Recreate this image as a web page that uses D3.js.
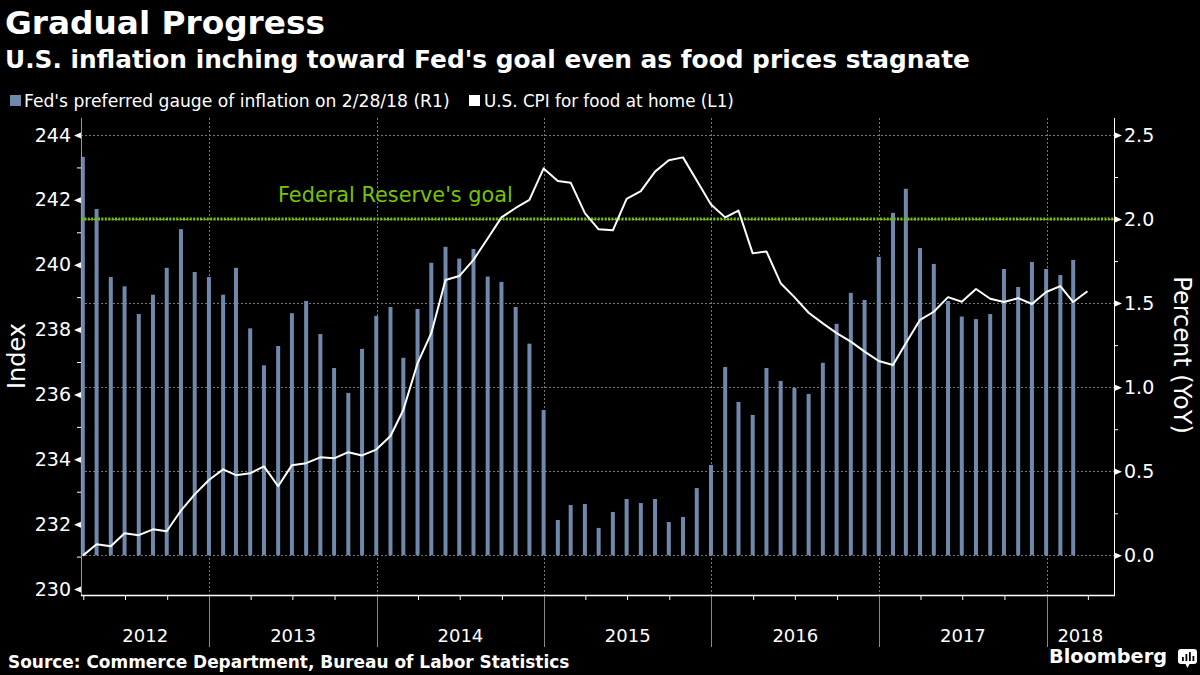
<!DOCTYPE html>
<html><head><meta charset="utf-8">
<script src="https://cdn.jsdelivr.net/npm/d3@7"></script>
<style>html,body{margin:0;padding:0;background:#000;} svg{display:block;}</style>
</head><body>
<svg id="chart" width="1200" height="675"></svg>
<script>
const FONT = "'DejaVu Sans', Verdana, sans-serif";
const titleText = "Gradual Progress";
const subtitleText = "U.S. inflation inching toward Fed's goal even as food prices stagnate";
const legendLabels = ["Fed's preferred gauge of inflation on 2/28/18 (R1)", "U.S. CPI for food at home (L1)"];
const sourceText = "Source: Commerce Department, Bureau of Labor Statistics";
const goalLabel = "Federal Reserve's goal";
const goalValue = 2.0;
const leftTicks = [230, 232, 234, 236, 238, 240, 242, 244];
const leftMinorTicks = [231, 233, 235, 237, 239, 241, 243];
const rightTicks = [0, 0.5, 1.0, 1.5, 2.0, 2.5];
const rightMinorTicks = [0.25, 0.75, 1.25, 1.75, 2.25];
const yearLabels = ["2012", "2013", "2014", "2015", "2016", "2017", "2018"];

// Fed's preferred gauge (PCE, % YoY), monthly Mar 2012 .. Feb 2018 (right axis)
const pceValues = [
  2.37, 2.06, 1.655, 1.60, 1.435, 1.55, 1.71, 1.94, 1.685, 1.655,
  1.55, 1.71, 1.35, 1.13, 1.245, 1.44, 1.513, 1.316, 1.114, 0.966,
  1.228, 1.424, 1.477, 1.175, 1.465, 1.74, 1.835, 1.765, 1.822, 1.658,
  1.626, 1.477, 1.259, 0.864, 0.21, 0.299, 0.305, 0.163, 0.258, 0.335,
  0.311, 0.335, 0.198, 0.228, 0.40, 0.537, 1.12, 0.912, 0.835, 1.114,
  1.037, 0.996, 0.96, 1.145, 1.377, 1.561, 1.519, 1.775, 2.037, 2.18,
  1.828, 1.733, 1.513, 1.42, 1.405, 1.435, 1.703, 1.596, 1.745, 1.703,
  1.667, 1.757
];
// U.S. CPI for food at home (index), monthly Mar 2012 .. Mar 2018 (left axis)
const cpiFoodValues = [
  231.03, 231.38, 231.32, 231.72, 231.66, 231.84, 231.78, 232.42, 232.92, 233.36,
  233.69, 233.51, 233.57, 233.78, 233.17, 233.82, 233.88, 234.06, 234.03, 234.22,
  234.12, 234.30, 234.72, 235.52, 236.96, 237.89, 239.53, 239.65, 240.15, 240.81,
  241.46, 241.75, 242.00, 242.97, 242.58, 242.53, 241.59, 241.09, 241.06, 242.03,
  242.27, 242.87, 243.22, 243.31, 242.60, 241.86, 241.46, 241.67, 240.35, 240.41,
  239.43, 239.00, 238.52, 238.19, 237.89, 237.63, 237.32, 237.03, 236.91, 237.58,
  238.30, 238.55, 239.00, 238.86, 239.25, 238.95, 238.85, 238.97, 238.79, 239.16,
  239.34, 238.85, 239.18
];
const firstYear = 2012, firstMonthIndex = 2; // March 2012 (0-based month)

const monthEnd = i => new Date(firstYear, firstMonthIndex + 1 + i, 0);
const pceData = pceValues.map((v, i) => ({date: monthEnd(i), value: v}));
const cpiData = cpiFoodValues.map((v, i) => ({date: monthEnd(i), value: v}));

const svg = d3.select("#chart");
svg.append("rect").attr("width", 1200).attr("height", 675).attr("fill", "#000");

const L = 81, R = 1114, T = 118, B = 595;
const x = d3.scaleTime().domain([new Date(2012, 2, 27), new Date(2018, 4, 28)]).range([L, R]);
const yR = d3.scaleLinear().domain([-0.236, 2.601]).range([B, T]);
const yL = d3.scaleLinear().domain([229.816, 244.524]).range([B, T]);

function fit(sel, target) {
  const len = sel.node().getComputedTextLength();
  const fs = parseFloat(sel.attr("font-size"));
  sel.attr("font-size", (fs * target / len).toFixed(2));
}

// Titles
fit(svg.append("text").attr("x", 5).attr("y", 34).attr("fill", "#fff").attr("font-family", FONT)
  .attr("font-weight", "bold").attr("font-size", 32).text(titleText), 320);
fit(svg.append("text").attr("x", 5).attr("y", 68).attr("fill", "#fff").attr("font-family", FONT)
  .attr("font-weight", "bold").attr("font-size", 22).text(subtitleText), 965);

// Legend
svg.append("rect").attr("x", 10).attr("y", 95).attr("width", 11).attr("height", 11).attr("fill", "#6f88ab");
fit(svg.append("text").attr("x", 24).attr("y", 106.5).attr("fill", "#fff").attr("font-family", FONT)
  .attr("font-size", 17).text(legendLabels[0]), 426);
svg.append("rect").attr("x", 469).attr("y", 95).attr("width", 11).attr("height", 11).attr("fill", "#fff");
fit(svg.append("text").attr("x", 484).attr("y", 106.5).attr("fill", "#fff").attr("font-family", FONT)
  .attr("font-size", 17).text(legendLabels[1]), 250);

// Gridlines
const grid = svg.append("g");
grid.selectAll("line.h").data(rightTicks).join("line")
  .attr("x1", L).attr("x2", R)
  .attr("y1", d => Math.round(yR(d)) + 0.5).attr("y2", d => Math.round(yR(d)) + 0.5)
  .attr("stroke", "#777").attr("stroke-width", 1).attr("stroke-dasharray", "2,2");
const yearStarts = d3.timeYear.range(new Date(2013, 0, 1), new Date(2018, 0, 2));
grid.selectAll("line.v").data(yearStarts).join("line")
  .attr("x1", d => Math.round(x(d)) + 0.5).attr("x2", d => Math.round(x(d)) + 0.5)
  .attr("y1", T).attr("y2", B)
  .attr("stroke", "#777").attr("stroke-width", 1).attr("stroke-dasharray", "2,2");
grid.selectAll("line.sep").data(yearStarts).join("line")
  .attr("x1", d => Math.round(x(d)) + 0.5).attr("x2", d => Math.round(x(d)) + 0.5)
  .attr("y1", B).attr("y2", 647)
  .attr("stroke", "#888").attr("stroke-width", 1);

// Bars
svg.append("g").selectAll("rect").data(pceData).join("rect")
  .attr("x", d => x(d.date) - 2).attr("width", 4)
  .attr("y", d => yR(d.value)).attr("height", d => yR(0) - yR(d.value))
  .attr("fill", "#6f88ab");

// Goal line
svg.append("line").attr("x1", L).attr("x2", R)
  .attr("y1", yR(goalValue)).attr("y2", yR(goalValue))
  .attr("stroke", "#77c400").attr("stroke-width", 3).attr("stroke-dasharray", "2,1.4");
fit(svg.append("text").attr("x", 278).attr("y", 202).attr("fill", "#77c400").attr("font-family", FONT)
  .attr("font-size", 20.5).text(goalLabel), 235);

// CPI line
svg.append("path").datum(cpiData)
  .attr("d", d3.line().x(d => x(d.date)).y(d => yL(d.value)))
  .attr("fill", "none").attr("stroke", "#fff").attr("stroke-width", 2).attr("stroke-linejoin", "round");

// Left axis
svg.append("line").attr("x1", L + 0.5).attr("x2", L + 0.5).attr("y1", T).attr("y2", B).attr("stroke", "#999");
const axL = svg.append("g").attr("transform", `translate(${L},0)`)
  .call(d3.axisLeft(yL).tickValues(leftTicks).tickSize(0).tickPadding(10).tickFormat(d3.format("d")));
axL.select(".domain").remove();
axL.selectAll("text").attr("fill", "#fff").attr("font-family", FONT).attr("font-size", 19);
axL.selectAll(".tick").append("path").attr("d", "M0,-3L0,3L-7,0Z").attr("fill", "#fff");
const axLm = svg.append("g").attr("transform", `translate(${L},0)`)
  .call(d3.axisLeft(yL).tickValues(leftMinorTicks).tickSize(4).tickFormat(""));
axLm.select(".domain").remove();
axLm.selectAll("line").attr("stroke", "#fff");

// Right axis
svg.append("line").attr("x1", R + 0.5).attr("x2", R + 0.5).attr("y1", T).attr("y2", B).attr("stroke", "#fff");
const axR = svg.append("g").attr("transform", `translate(${R},0)`)
  .call(d3.axisRight(yR).tickValues(rightTicks).tickSize(0).tickPadding(10).tickFormat(d3.format(".1f")));
axR.select(".domain").remove();
axR.selectAll("text").attr("fill", "#fff").attr("font-family", FONT).attr("font-size", 19);
axR.selectAll(".tick").append("path").attr("d", "M1,-3L1,3L8,0Z").attr("fill", "#fff");
const axRm = svg.append("g").attr("transform", `translate(${R},0)`)
  .call(d3.axisRight(yR).tickValues(rightMinorTicks).tickSize(4).tickFormat(""));
axRm.select(".domain").remove();
axRm.selectAll("line").attr("stroke", "#fff");

// Bottom axis
svg.append("line").attr("x1", L).attr("x2", R + 1).attr("y1", B + 0.5).attr("y2", B + 0.5).attr("stroke", "#fff").attr("stroke-width", 1.5);
const quarters = d3.timeMonth.every(3).range(x.domain()[0], x.domain()[1]).filter(d => d.getMonth() !== 0);
const axB = svg.append("g").attr("transform", `translate(0,${B})`)
  .call(d3.axisBottom(x).tickValues(quarters).tickSize(5).tickFormat(""));
axB.select(".domain").remove();
axB.selectAll("line").attr("stroke", "#fff");

// Year labels
const yearBounds = yearLabels.map((lab, i) => {
  const y0 = new Date(+lab, 0, 1), y1 = new Date(+lab + 1, 0, 1);
  const a = Math.max(x(y0), L), b = Math.min(x(y1), R);
  return {lab, cx: (a + b) / 2};
});
svg.append("g").selectAll("text").data(yearBounds).join("text")
  .attr("x", d => d.cx).attr("y", 642).attr("text-anchor", "middle")
  .attr("fill", "#fff").attr("font-family", FONT).attr("font-size", 18).text(d => d.lab);

// Axis titles
svg.append("text").attr("transform", "translate(25,356) rotate(-90)").attr("text-anchor", "middle")
  .attr("fill", "#fff").attr("font-family", FONT).attr("font-size", 24).text("Index");
svg.append("text").attr("transform", "translate(1174,355) rotate(90)").attr("text-anchor", "middle")
  .attr("fill", "#fff").attr("font-family", FONT).attr("font-size", 24).text("Percent (YoY)");

// Source & branding
fit(svg.append("text").attr("x", 8).attr("y", 668).attr("fill", "#fff").attr("font-family", FONT)
  .attr("font-weight", "bold").attr("font-size", 16).text(sourceText), 562);
fit(svg.append("text").attr("x", 1049).attr("y", 663).attr("fill", "#fff").attr("font-family", FONT)
  .attr("font-weight", "bold").attr("font-size", 19).text("Bloomberg"), 118);
const logo = svg.append("g").attr("transform", "translate(1178,649)");
logo.append("rect").attr("width", 19).attr("height", 15).attr("rx", 3).attr("fill", "#fff");
logo.append("path").attr("d", "M7,14L9.5,19L12,14Z").attr("fill", "#fff");
[[4, 8], [7.5, 5], [11, 3], [14.5, 7]].forEach(([bx, by]) =>
  logo.append("rect").attr("x", bx).attr("y", by).attr("width", 1.8).attr("height", 12 - by).attr("fill", "#000"));
</script>
</body></html>
